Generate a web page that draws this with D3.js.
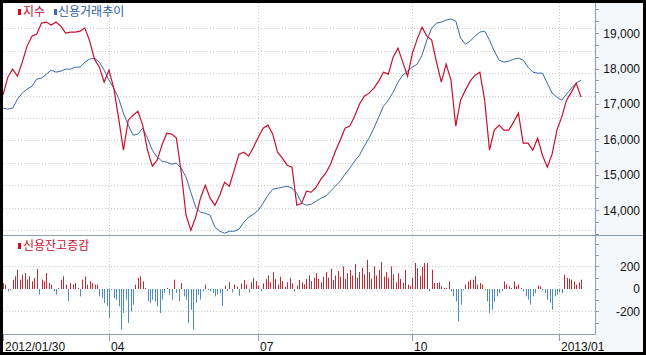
<!DOCTYPE html>
<html>
<head>
<meta charset="utf-8">
<script src="https://d3js.org/d3.v7.min.js"></script>
<style>
body { margin: 0; background: #fff; }
svg { display: block; }
</style>
</head>
<body>
<div class="chart"></div>
<script>
// index (지수), sampled every 2 trading days from 2012/01/30
const indexValues = [17248,17757,17983,17785,18181,18633,18915,18972,19282,19311,
  19226,19311,19197,19000,19028,19028,19056,19141,18774,18265,
  18039,17616,17955,17446,16598,15695,16542,16683,16796,16401,
  15695,15242,15412,15836,16175,16147,16034,15073,13858,13435,
  13802,14339,14706,14339,14141,14423,14791,14677,15130,15582,
  15638,15525,15780,16062,16316,16401,16147,15638,15469,15271,
  15215,14141,14197,14536,14508,14649,14875,15045,15299,15666,
  15977,16316,16373,16655,16994,17220,17305,17446,17644,17898,
  17842,18322,18576,18181,17785,18435,18830,19169,18915,18802,
  18181,17616,18124,17672,16373,17107,17390,17644,17813,17898,
  17107,15695,16260,16401,16260,16260,16486,16740,15892,15892,
  15695,16034,15553,15214,15582,16260,16627,17107,17333,17587,
  17192];

// credit trading trend (신용거래추이), same sampling, drawn on the index axis
const creditTrend = [16881,16853,16881,17135,17305,17418,17502,17700,17728,17841,
  17954,17898,17926,17983,17983,18039,18039,18180,18265,18293,
  18180,17954,17672,17446,17163,16740,16401,16118,16146,16316,
  16033,15694,15497,15384,15355,15299,15327,15186,14932,14508,
  14084,13943,13915,13858,13519,13406,13350,13406,13406,13463,
  13660,13802,13886,13999,14197,14423,14593,14621,14649,14677,
  14621,14480,14197,14141,14169,14254,14338,14395,14536,14677,
  14819,15016,15186,15384,15553,15807,16033,16316,16627,16937,
  17107,17333,17615,17813,17926,18039,18124,18378,18802,19141,
  19282,19310,19367,19395,19339,18858,18689,18774,18915,19028,
  19056,18802,18491,18237,18180,18209,18265,18293,18237,18039,
  17898,17870,17870,17587,17305,17192,17107,17276,17446,17587,
  17672];

// daily change of credit balance (신용잔고증감)
const creditChange = [53,39,-21,-6,83,113,172,83,127,142,
  83,113,68,98,178,-50,83,68,142,53,
  39,-21,-50,10,83,113,39,-110,53,39,
  53,9,-65,83,113,39,68,53,39,39,
  -65,-80,-124,-154,-258,-6,-80,-95,-154,-361,
  -213,-95,-302,-199,-139,39,98,113,68,9,
  -110,-124,-95,-110,-154,-213,-95,-36,9,-50,
  -95,83,-36,-110,53,-65,-95,-302,-184,-361,
  -124,-50,-95,-21,39,-6,-21,-36,-65,-50,
  -40,-150,30,-20,60,-30,40,20,-60,50,
  80,40,-30,60,100,70,30,-20,50,90,
  120,60,150,90,40,110,70,20,60,100,
  50,-20,30,80,60,40,90,120,70,100,
  140,90,60,110,150,100,180,80,120,160,
  110,200,90,140,170,120,220,100,150,190,
  130,260,150,90,200,120,170,240,110,150,
  100,200,130,60,140,90,
  53,172,39,24,98,231,187,113,196,231,
  231,-21,172,53,53,59,24,10,10,68,
  -21,-65,-110,-287,-139,-10,39,68,83,83,
  113,39,53,39,-10,-110,-213,-184,-110,-65,
  -36,-21,68,39,24,9,68,24,39,9,
  -21,-65,-95,-139,-65,-36,30,24,-10,-36,
  -95,-124,-184,-65,-50,-30,-36,127,98,89,
  83,68,39,59,83];

const tickLabels = ["2012/01/30", "04", "07", "10", "2013/01"];
const tickDays = [0, 44, 106, 170, 231];
const indexTicks = [14000, 15000, 16000, 17000, 18000, 19000];
const changeTicks = [-200, 0, 200];
const lineStep = 2;

//constants
const width = 646;
const height = 355;
const pLeft = 3, pRight = 595, pTop = 3, pSplit = 235, pBottom = 334;
const numFont = "'Liberation Sans', Arial, sans-serif";
const korFont = "'Noto Sans CJK KR', 'Noto Sans', sans-serif";

const svg = d3.select(".chart")
  .append("svg")
  .attr("width", width)
  .attr("height", height);

// black frame and backgrounds
svg.append("rect").attr("width", width).attr("height", height).attr("fill", "#000");
svg.append("rect").attr("x", 3).attr("y", 3).attr("width", width - 6).attr("height", height - 6).attr("fill", "#fff");
svg.append("rect").attr("x", pRight).attr("y", 3).attr("width", width - 3 - pRight).attr("height", height - 6).attr("fill", "#f4f7fa");

const x = d3.scaleLinear().domain([0, creditChange.length - 1]).range([3, 581]);
const yTop = d3.scaleLinear().domain([13300, 19850]).range([pSplit, pTop]);
const yBot = d3.scaleLinear().domain([-400, 471]).range([pBottom, pSplit + 1]);

const grid = svg.append("g")
  .attr("stroke", "#c9c9c9")
  .attr("stroke-dasharray", "1,2");

// horizontal grid rows of the upper panel
d3.range(1, 11).forEach(k => {
  const gy = Math.round(6 + k * 22.4) + 0.5;
  grid.append("line").attr("x1", pLeft).attr("x2", pRight).attr("y1", gy).attr("y2", gy);
});
changeTicks.filter(t => t !== 0).forEach(t => {
  const gy = Math.round(yBot(t)) + 0.5;
  grid.append("line").attr("x1", pLeft).attr("x2", pRight).attr("y1", gy).attr("y2", gy);
});
tickDays.slice(1).forEach(d => {
  const gx = Math.round(x(d)) + 0.5;
  grid.append("line").attr("x1", gx).attr("x2", gx).attr("y1", pTop).attr("y2", pBottom);
});

// clip for the upper panel
svg.append("clipPath").attr("id", "clipTop")
  .append("rect").attr("x", pLeft).attr("y", pTop).attr("width", pRight - pLeft).attr("height", pSplit - pTop);

const line = d3.line()
  .x((d, i) => x(i * lineStep))
  .y(d => yTop(d));

const plot = svg.append("g").attr("clip-path", "url(#clipTop)");
plot.append("path")
  .datum(creditTrend)
  .attr("d", line)
  .attr("fill", "none")
  .attr("stroke", "#3a68a8")
  .attr("stroke-width", 1);
plot.append("path")
  .datum(indexValues)
  .attr("d", line)
  .attr("fill", "none")
  .attr("stroke", "#c8102e")
  .attr("stroke-width", 1.2);

// bars
svg.append("g")
  .selectAll("rect")
  .data(creditChange)
  .enter()
  .append("rect")
  .attr("x", (d, i) => Math.round(x(i)))
  .attr("width", 1)
  .attr("y", d => d >= 0 ? yBot(d) : yBot(0))
  .attr("height", d => Math.max(1, Math.abs(yBot(d) - yBot(0))))
  .attr("fill", d => d >= 0 ? "#c42832" : "#4a8cc6");

// panel lines
const frame = svg.append("g").attr("stroke", "#8d9cb0").attr("stroke-width", 1);
frame.append("line").attr("x1", 3).attr("x2", width - 3).attr("y1", pSplit + 0.5).attr("y2", pSplit + 0.5);
frame.append("line").attr("x1", 3).attr("x2", pRight).attr("y1", pBottom + 0.5).attr("y2", pBottom + 0.5);
frame.append("line").attr("x1", pRight + 0.5).attr("x2", pRight + 0.5).attr("y1", 3).attr("y2", pBottom + 0.5);

// right axis ticks
d3.range(13333.33, 19850, 1000 / 3).forEach(v => {
  const ty = Math.round(yTop(v)) + 0.5;
  frame.append("line").attr("x1", pRight).attr("x2", pRight + 4).attr("y1", ty).attr("y2", ty);
});
d3.range(-300, 471, 100).forEach(v => {
  const ty = Math.round(yBot(v)) + 0.5;
  frame.append("line").attr("x1", pRight).attr("x2", pRight + 4).attr("y1", ty).attr("y2", ty);
});

svg.append("g").selectAll("text")
  .data(indexTicks)
  .enter()
  .append("text")
  .attr("x", 640)
  .attr("y", d => yTop(d) + 4.5)
  .attr("text-anchor", "end")
  .style("font-family", numFont)
  .style("font-size", "12px")
  .attr("fill", "#111")
  .text(d => d3.format(",")(d));

svg.append("g").selectAll("text")
  .data(changeTicks)
  .enter()
  .append("text")
  .attr("x", 640)
  .attr("y", d => yBot(d) + 4.5)
  .attr("text-anchor", "end")
  .style("font-family", numFont)
  .style("font-size", "12px")
  .attr("fill", "#111")
  .text(d => String(d));

// bottom axis
const xAxis = svg.append("g");
tickDays.forEach((d, i) => {
  const tx = Math.round(x(d)) + 0.5;
  xAxis.append("line").attr("x1", tx).attr("x2", tx).attr("y1", pBottom).attr("y2", pBottom + 7)
    .attr("stroke", "#8d9cb0");
  xAxis.append("text")
    .attr("x", Math.round(x(d)) + 2)
    .attr("y", 351)
    .style("font-family", numFont)
    .style("font-size", "12px")
    .attr("fill", "#111")
    .text(tickLabels[i]);
});

// legends
const legendTop = svg.append("g").style("font-family", korFont).style("font-size", "12px");
legendTop.append("rect").attr("x", 18).attr("y", 9).attr("width", 3).attr("height", 6).attr("fill", "#c8102e");
legendTop.append("text").attr("x", 23).attr("y", 16).attr("fill", "#c8102e").text("지수");
legendTop.append("rect").attr("x", 54).attr("y", 9).attr("width", 3).attr("height", 6).attr("fill", "#3a68a8");
legendTop.append("text").attr("x", 58).attr("y", 16).attr("fill", "#2c5d9e").text("신용거래추이");

const legendBot = svg.append("g").style("font-family", korFont).style("font-size", "12px");
legendBot.append("rect").attr("x", 18).attr("y", 243).attr("width", 3).attr("height", 6).attr("fill", "#c8102e");
legendBot.append("text").attr("x", 23).attr("y", 250).attr("fill", "#c8102e").text("신용잔고증감");
</script>
</body>
</html>
